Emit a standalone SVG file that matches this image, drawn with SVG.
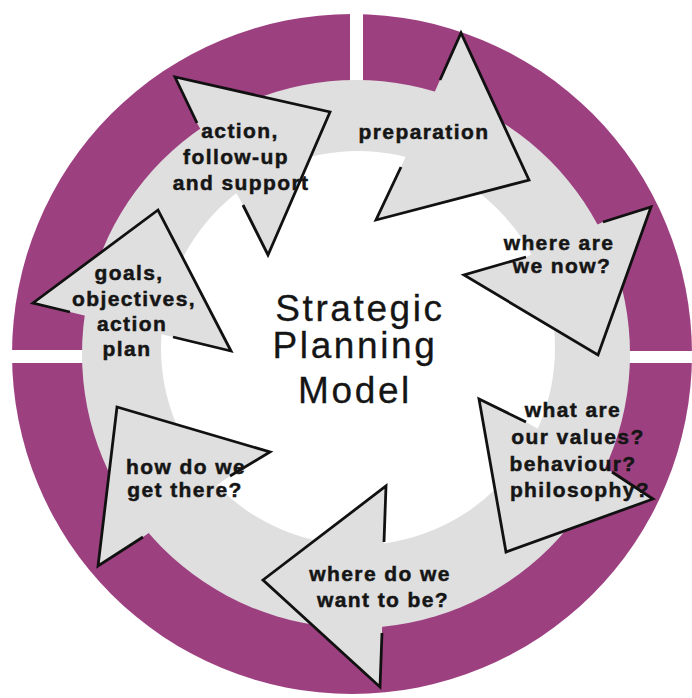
<svg xmlns="http://www.w3.org/2000/svg" width="692" height="698" viewBox="0 0 692 698">
  <style>
    .band { fill: #9d4080; }
    .gap { fill: #ffffff; }
    .track { fill: #dfdfdf; }
    .hole { fill: #ffffff; }
    .head { fill: #dfdfdf; stroke: none; }
    .edge { fill: none; stroke: #111111; stroke-width: 2.8; stroke-linejoin: miter; stroke-linecap: butt; }
    .label { font-family: "Liberation Sans", Arial, Helvetica, sans-serif; font-weight: bold; font-size: 21px; letter-spacing: 1.4px; fill: #151515; stroke: #151515; stroke-width: 0.5; text-anchor: middle; }
    .title { font-family: "Liberation Sans", Arial, Helvetica, sans-serif; font-size: 37px; letter-spacing: 2.6px; fill: #151515; stroke: #151515; stroke-width: 0.3; text-anchor: middle; }
  </style>

  <rect width="692" height="698" fill="#ffffff"/>

  <!-- outer purple band, split into quarters at top, left and right -->
  <g id="ring">
    <circle class="band" cx="352" cy="354" r="340"/>
    <rect class="gap" x="350" y="0" width="13" height="120"/>
    <rect class="gap" x="0" y="350" width="120" height="13"/>
    <rect class="gap" x="590" y="351" width="102" height="12"/>
    <!-- grey track the arrows run along -->
    <circle class="track" cx="356" cy="354" r="274"/>
    <circle class="hole" cx="358" cy="348" r="197"/>
  </g>

  <!-- arrowheads: the inner part of each back edge is left open where it joins the track -->
  <g id="connectors">
    <g id="step-preparation">
      <polygon class="head" points="440,80 461,33 529,180 376,220 401,167"/>
      <polyline class="edge" points="440,80 461,33 529,180 376,220 401,167"/>
    </g>
    <g id="step-where-now">
      <polygon class="head" points="603,222 651,207 598,355 464,275 526,257"/>
      <polyline class="edge" points="603,222 651,207 598,355 464,275 526,257"/>
    </g>
    <g id="step-values">
      <polygon class="head" points="526,422 479,399 506,552 653,499 612,472"/>
      <polyline class="edge" points="526,422 479,399 506,552 653,499 612,472"/>
    </g>
    <g id="step-want">
      <polygon class="head" points="384,542 386,486 263,580 380,687 382,633"/>
      <polyline class="edge" points="384,542 386,486 263,580 380,687 382,633"/>
    </g>
    <g id="step-how">
      <polygon class="head" points="230,476 270,452 117,407 98,566 143,537"/>
      <polyline class="edge" points="230,476 270,452 117,407 98,566 143,537"/>
    </g>
    <g id="step-goals">
      <polygon class="head" points="70,312 33,303 158,210 231,351 173,337"/>
      <polyline class="edge" points="70,312 33,303 158,210 231,351 173,337"/>
    </g>
    <g id="step-action">
      <polygon class="head" points="197,123 175,77 330,112 268,255 243,205"/>
      <polyline class="edge" points="197,123 175,77 330,112 268,255 243,205"/>
    </g>
  </g>

  <!-- step labels -->
  <g id="node-preparation">
    <text class="label" x="424" y="139">preparation</text>
  </g>
  <g id="node-where-now">
    <text class="label" x="559" y="250">where are</text>
    <text class="label" x="562" y="273">we now?</text>
  </g>
  <g id="node-values">
    <text class="label" x="573" y="417">what are</text>
    <text class="label" x="578" y="444">our values?</text>
    <text class="label" x="573" y="471">behaviour?</text>
    <text class="label" x="580" y="497">philosophy?</text>
  </g>
  <g id="node-want">
    <text class="label" x="380" y="581">where do we</text>
    <text class="label" x="383" y="607">want to be?</text>
  </g>
  <g id="node-how">
    <text class="label" x="186" y="474">how do we</text>
    <text class="label" x="185" y="497">get there?</text>
  </g>
  <g id="node-goals">
    <text class="label" x="129" y="280">goals,</text>
    <text class="label" x="134" y="306">objectives,</text>
    <text class="label" x="132" y="331">action</text>
    <text class="label" x="127" y="356">plan</text>
  </g>
  <g id="node-action">
    <text class="label" x="240" y="138">action,</text>
    <text class="label" x="236" y="164">follow-up</text>
    <text class="label" x="241" y="190">and support</text>
  </g>

  <!-- centre title -->
  <g id="node-title">
    <text class="title" x="360" y="321">Strategic</text>
    <text class="title" x="355" y="358">Planning</text>
    <text class="title" x="355" y="403">Model</text>
  </g>
</svg>
